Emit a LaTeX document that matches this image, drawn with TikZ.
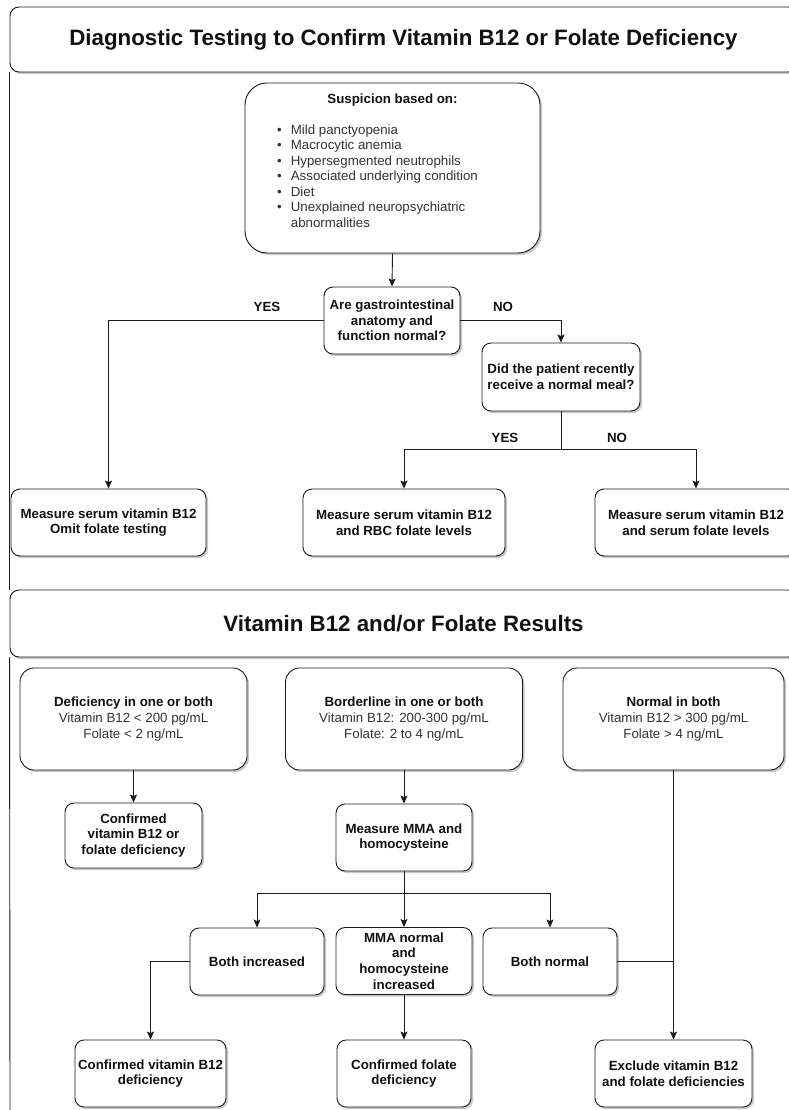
\documentclass[tikz,border=0pt]{standalone}
\usepackage{fontspec}
\setmainfont{Liberation Sans}
\usetikzlibrary{arrows.meta,shadows}
\definecolor{txt}{HTML}{111111}
\definecolor{txtg}{HTML}{333333}
\definecolor{edge}{HTML}{1A1A1A}
\newcommand\bodyfont{\fontsize{13.3}{15.7}\selectfont}
\newcommand\titlefont{\fontsize{22.3}{26}\selectfont\bfseries}
\newcommand\regl[1]{{\mdseries\color{txtg}#1}}
\begin{document}
\begin{tikzpicture}[x=1pt,y=-1pt,font=\bodyfont,
  box/.style={draw=edge, line width=0.9pt, fill=white, rounded corners=9pt, align=center,
    inner sep=1pt, font=\bodyfont\bfseries, text=txt,
    drop shadow={shadow xshift=2pt, shadow yshift=-2pt, opacity=0.22, fill=black}},
  hdr/.style={box, font=\titlefont, minimum width=787pt},
  resbox/.style={box, rounded corners=14pt, minimum height=102pt},
  lbl/.style={inner sep=1pt, font=\bodyfont\bfseries, text=txt},
  arr/.style={draw=edge, line width=0.9pt, -{Stealth[length=8pt,width=7pt,inset=1.5pt]}},
  ln/.style={draw=edge, line width=0.9pt}]
\useasboundingbox (0,0) rectangle (788,1110);
\fill[white] (0,0) rectangle (788,1110);

% ---------- section 1 ----------
\node[hdr, minimum height=65pt] (hdr1) at (403.5,39.5) {Diagnostic Testing to Confirm Vitamin B12 or Folate Deficiency};

\node[box, rounded corners=22pt, minimum width=295pt, minimum height=170pt] (susp) at (392.5,168) {};
\node[lbl] (susphead) at (392.5,100) {Suspicion based on:};
\node[anchor=north west, inner sep=0pt, text=txtg, font=\fontsize{13.3}{15.5}\selectfont] (list) at (277,123)
  {\begin{tabular}{@{}l@{\hspace{9pt}}l@{}}
   \textbullet & Mild panctyopenia\\
   \textbullet & Macrocytic anemia\\
   \textbullet & Hypersegmented neutrophils\\
   \textbullet & Associated underlying condition\\
   \textbullet & Diet\\
   \textbullet & Unexplained neuropsychiatric\\
               & abnormalities
   \end{tabular}};

\node[box, minimum width=136pt, minimum height=67pt] (gi) at (392,320.5) {Are gastrointestinal\\anatomy and\\function normal?};
\node[box, minimum width=158pt, minimum height=68pt] (meal) at (561,377) {Did the patient recently\\receive a normal meal?};

\node[box, minimum width=195pt, minimum height=67pt] (m1) at (108.5,522.5) {Measure serum vitamin B12\\Omit folate testing};
\node[box, minimum width=202pt, minimum height=67pt] (m2) at (404,522.5) {Measure serum vitamin B12\\and RBC folate levels};
\node[box, minimum width=202pt, minimum height=67pt] (m3) at (696,522.5) {Measure serum vitamin B12\\and serum folate levels};

\node[lbl] (yes1) at (267,307) {YES};
\node[lbl] (no1) at (503,307) {NO};
\node[lbl] (yes2) at (505,438) {YES};
\node[lbl] (no2) at (617,438) {NO};

\draw[arr] (susp.south) -- (gi.north);
\draw[arr] (gi.west) -| (m1.north);
\draw[arr] (gi.east) -| (meal.north);
\path (meal.south) ++(0,38) coordinate (mb);
\draw[ln] (meal.south) -- (mb);
\draw[arr] (mb) -| (m2.north);
\draw[arr] (mb) -| (m3.north);

% ---------- section 2 ----------
\node[hdr, minimum height=67pt] (hdr2) at (403.5,623.5) {Vitamin B12 and/or Folate Results};

\node[resbox, minimum width=227pt] (def) at (133.5,719) {Deficiency in one or both\\\regl{Vitamin B12 < 200 pg/mL}\\\regl{Folate < 2 ng/mL}};
\node[resbox, minimum width=237pt] (bord) at (404,719) {Borderline in one or both\\\regl{Vitamin B12: 200-300 pg/mL}\\\regl{Folate: 2 to 4 ng/mL}};
\node[resbox, minimum width=221pt] (norm) at (673.5,719) {Normal in both\\\regl{Vitamin B12 > 300 pg/mL}\\\regl{Folate > 4 ng/mL}};

\node[box, minimum width=137pt, minimum height=65pt] (conf) at (133.5,835.5) {Confirmed\\vitamin B12 or\\folate deficiency};
\node[box, minimum width=136pt, minimum height=67pt] (mma) at (404,837.5) {Measure MMA and\\homocysteine};

\node[box, minimum width=134pt, minimum height=67pt] (bi) at (257,961.5) {Both increased};
\node[box, minimum width=136pt, minimum height=67pt] (mn) at (404,961) {MMA normal\\and\\homocysteine\\increased};
\node[box, minimum width=134pt, minimum height=67pt] (bn) at (550,961.5) {Both normal};

\node[box, minimum width=151pt, minimum height=67pt] (cb12) at (150.5,1073.5) {Confirmed vitamin B12\\deficiency};
\node[box, minimum width=134pt, minimum height=67pt] (cfol) at (404,1073.5) {Confirmed folate\\deficiency};
\node[box, minimum width=157pt, minimum height=67pt] (excl) at (673.5,1073.5) {Exclude vitamin B12\\and folate deficiencies};

\draw[arr] (def.south) -- (conf.north);
\draw[arr] (bord.south) -- (mma.north);
\path (mma.south) ++(0,22) coordinate (mmab);
\draw[arr] (mma.south) -- (mn.north);
\draw[arr] (mmab) -| (bi.north);
\draw[arr] (mmab) -| (bn.north);
\draw[arr] (bi.west) -| (cb12.north);
\draw[arr] (mn.south) -- (cfol.north);
\draw[arr] (norm.south) -- (excl.north);
\draw[ln] (bn.east) -- (bn.east -| norm.south);

% ---------- left border ----------
\coordinate (pagebottom) at (10,1112);
\draw[ln] (hdr1.south west) -- (hdr2.north west);
\draw[ln] (hdr2.south west) -- (pagebottom);
\end{tikzpicture}
\end{document}
